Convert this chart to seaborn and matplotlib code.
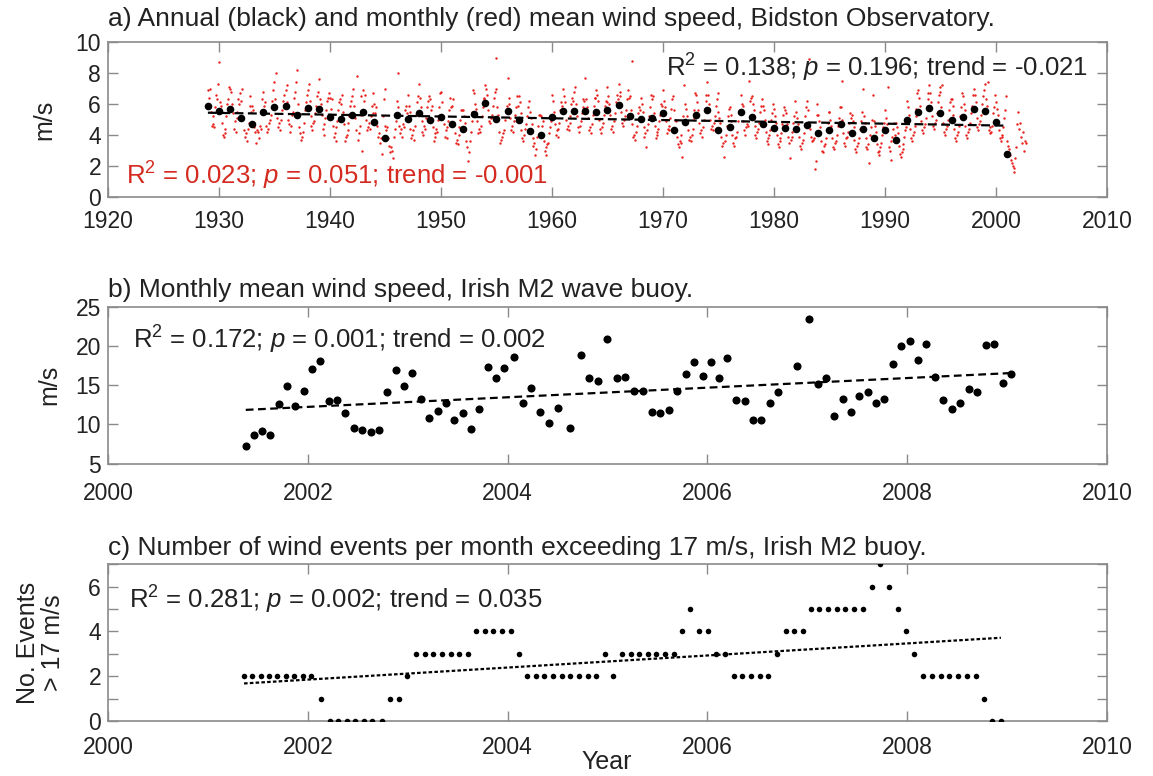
import numpy as np
import matplotlib
matplotlib.use("Agg")
import matplotlib.pyplot as plt
import seaborn as sns

# ---------------- data ----------------
# a) Bidston Observatory: annual mean wind speed (m/s), 1929-2001
annual_years = list(range(1929, 2002))
annual_speed = [5.90, 5.54, 5.69, 5.11, 4.74, 5.49, 5.82, 5.84, 5.26, 5.73,
                5.69, 5.17, 5.06, 5.32, 5.49, 4.87, 3.78, 5.26, 5.06, 5.43,
                5.00, 5.17, 4.70, 4.40, 5.36, 6.05, 5.02, 5.56, 5.00, 4.23,
                3.97, 5.17, 5.54, 5.58, 5.54, 5.50, 5.62, 5.91, 5.23, 5.02,
                5.11, 5.40, 4.34, 4.85, 5.28, 5.60, 4.32, 4.53, 5.47, 5.13,
                4.68, 4.47, 4.47, 4.38, 4.62, 4.11, 4.32, 4.70, 4.15, 4.40,
                3.81, 4.32, 3.68, 4.96, 5.47, 5.77, 5.40, 4.98, 5.15, 5.66,
                5.53, 4.87, 2.77]

# monthly mean wind speed (m/s), Jan 1929 onwards
monthly_start = 1929
monthly_speed = [
    6.9, 6.4, 7.0, 5.5, 4.6, 4.7, 5.2, 4.5, 5.8, 6.6, 6.3, 7.3,
    8.7, 6.1, 5.9, 4.8, 4.0, 3.9, 4.4, 4.1, 5.2, 6.0, 6.3, 7.1,
    7.0, 6.8, 6.0, 5.4, 4.4, 4.9, 4.2, 5.1, 5.5, 6.3, 6.0, 6.7,
    6.2, 7.0, 5.1, 4.3, 3.9, 4.1, 3.6, 4.4, 4.8, 5.9, 6.5, 5.5,
    5.9, 5.6, 4.5, 4.2, 3.5, 4.3, 4.2, 3.8, 4.6, 4.4, 6.3, 5.6,
    6.8, 5.9, 6.1, 4.6, 4.2, 4.4, 4.8, 5.0, 5.3, 6.2, 6.9, 5.7,
    7.4, 6.3, 8.0, 5.1, 4.5, 4.8, 4.3, 5.0, 5.6, 6.2, 6.6, 6.0,
    6.9, 7.2, 6.1, 5.0, 4.7, 4.2, 4.6, 5.3, 5.5, 6.4, 6.8, 7.4,
    8.2, 6.0, 5.4, 4.5, 4.1, 3.7, 3.9, 4.2, 4.8, 5.6, 6.1, 6.6,
    6.9, 7.3, 6.2, 5.2, 4.6, 4.3, 4.8, 4.9, 5.4, 5.9, 6.5, 6.8,
    7.6, 6.3, 6.0, 5.3, 4.4, 4.0, 4.7, 5.1, 5.6, 6.2, 6.4, 6.7,
    6.4, 5.7, 6.3, 4.6, 3.9, 4.1, 3.6, 4.5, 4.9, 5.6, 6.1, 6.3,
    6.0, 6.6, 5.5, 4.7, 3.6, 3.9, 4.0, 4.3, 4.8, 5.2, 5.9, 6.2,
    6.5, 7.0, 5.9, 5.1, 4.3, 7.8, 3.7, 4.1, 4.6, 5.3, 6.5, 3.0,
    6.9, 6.2, 6.6, 5.0, 4.3, 4.5, 4.8, 4.4, 5.2, 5.9, 6.7, 5.4,
    6.0, 5.4, 5.8, 4.6, 3.9, 4.1, 3.5, 3.8, 2.8, 5.2, 6.3, 7.0,
    4.6, 4.3, 4.5, 3.8, 3.3, 2.9, 3.2, 3.0, 2.5, 3.9, 4.4, 4.9,
    6.2, 5.8, 8.0, 4.6, 4.1, 4.4, 3.9, 4.7, 4.5, 5.6, 5.9, 5.4,
    6.6, 5.9, 5.5, 4.4, 3.8, 4.0, 4.3, 3.7, 4.6, 5.3, 6.1, 6.5,
    7.3, 6.4, 5.8, 4.9, 4.2, 4.0, 4.6, 4.4, 5.1, 5.8, 6.2, 6.5,
    6.3, 5.6, 5.9, 4.5, 3.6, 3.9, 4.1, 4.4, 4.2, 5.0, 5.8, 6.7,
    6.8, 6.1, 5.2, 4.7, 3.9, 4.3, 3.8, 4.5, 4.9, 5.6, 6.4, 5.8,
    5.9, 6.3, 4.8, 4.1, 3.5, 3.7, 3.4, 4.0, 4.5, 5.0, 5.6, 5.6,
    5.6, 5.2, 4.8, 3.6, 3.2, 2.3, 2.9, 3.6, 4.2, 4.9, 5.5, 6.9,
    6.7, 6.0, 5.7, 4.9, 4.1, 4.4, 4.2, 4.6, 5.2, 5.8, 6.3, 6.4,
    7.2, 7.0, 6.6, 5.6, 4.9, 4.8, 5.1, 5.3, 5.9, 6.4, 6.8, 7.0,
    9.0, 5.8, 5.3, 4.2, 3.5, 3.7, 3.9, 4.1, 4.3, 5.0, 5.5, 5.9,
    7.7, 6.4, 6.0, 5.1, 4.3, 4.6, 4.2, 4.9, 5.3, 5.8, 6.5, 5.9,
    6.5, 6.1, 5.4, 4.3, 3.8, 3.6, 4.0, 4.4, 4.7, 5.2, 5.8, 6.2,
    5.5, 5.1, 4.7, 3.8, 3.3, 3.5, 2.7, 3.1, 3.9, 4.6, 5.3, 5.3,
    5.2, 4.6, 4.9, 3.6, 3.0, 3.2, 2.7, 3.4, 3.5, 4.1, 4.5, 4.9,
    6.6, 6.2, 5.5, 4.7, 4.0, 4.3, 3.9, 4.4, 4.8, 5.6, 6.1, 5.9,
    7.0, 6.5, 6.1, 5.0, 4.4, 4.6, 4.3, 4.8, 5.2, 6.0, 6.4, 6.2,
    6.8, 7.1, 6.0, 5.2, 4.5, 4.2, 4.6, 4.9, 5.4, 5.8, 6.3, 6.2,
    7.7, 6.3, 5.8, 5.1, 4.3, 4.5, 4.1, 4.7, 5.3, 5.9, 6.4, 6.4,
    6.9, 6.6, 6.2, 5.0, 4.4, 4.1, 4.5, 4.8, 5.3, 5.9, 6.2, 6.1,
    7.1, 6.5, 6.0, 5.3, 4.4, 4.6, 4.2, 4.9, 5.4, 6.1, 6.6, 6.3,
    7.3, 6.8, 6.5, 5.5, 4.8, 4.6, 5.0, 5.2, 5.6, 6.3, 6.9, 6.4,
    6.5, 5.6, 8.8, 4.7, 3.9, 4.0, 3.7, 4.2, 4.6, 5.4, 5.8, 5.6,
    6.4, 6.0, 5.5, 4.5, 3.9, 4.1, 3.2, 4.3, 4.7, 5.2, 5.8, 6.6,
    6.3, 6.5, 5.4, 4.6, 3.8, 4.2, 4.0, 4.4, 4.9, 5.3, 6.0, 5.9,
    6.9, 6.2, 5.8, 4.9, 4.1, 4.4, 4.3, 4.6, 5.1, 5.7, 6.3, 6.5,
    5.6, 5.0, 4.9, 3.9, 3.4, 3.2, 3.6, 3.5, 4.0, 2.6, 5.2, 7.2,
    6.0, 5.7, 5.2, 4.3, 3.7, 3.9, 3.6, 4.0, 4.4, 5.1, 5.6, 6.7,
    6.6, 6.1, 5.6, 4.8, 4.1, 4.3, 3.9, 4.5, 5.0, 5.7, 6.2, 6.6,
    7.4, 6.6, 6.0, 5.0, 4.4, 4.6, 4.3, 4.8, 5.2, 5.9, 6.3, 6.7,
    5.5, 5.1, 4.8, 3.9, 3.3, 3.5, 2.6, 3.6, 4.0, 4.6, 5.2, 5.7,
    5.8, 5.3, 4.9, 4.0, 3.5, 3.3, 3.8, 3.9, 4.2, 4.9, 5.4, 5.4,
    6.6, 6.0, 5.9, 4.9, 4.3, 4.0, 4.5, 4.7, 4.6, 7.5, 6.2, 6.4,
    6.5, 6.0, 5.6, 4.6, 4.0, 3.8, 4.2, 4.4, 4.8, 5.5, 5.9, 6.3,
    5.9, 5.6, 5.0, 4.2, 3.6, 3.4, 3.8, 4.0, 4.3, 5.0, 5.4, 6.0,
    5.7, 5.2, 4.8, 4.0, 3.4, 3.2, 3.6, 3.8, 4.1, 4.7, 5.3, 5.8,
    5.6, 5.4, 4.7, 3.9, 3.5, 2.5, 3.7, 3.9, 4.2, 4.8, 5.2, 6.2,
    5.5, 5.1, 4.7, 3.9, 3.3, 3.1, 3.5, 3.7, 4.1, 4.7, 5.2, 5.8,
    6.2, 5.6, 8.9, 4.4, 3.9, 3.6, 3.7, 3.8, 1.8, 2.3, 5.3, 6.0,
    5.3, 4.9, 4.5, 3.6, 3.0, 2.9, 3.3, 3.4, 3.8, 4.3, 4.8, 5.5,
    5.5, 5.0, 4.6, 3.8, 3.2, 3.1, 3.5, 3.6, 4.0, 4.6, 5.1, 5.8,
    5.8, 5.0, 7.5, 4.1, 3.5, 3.3, 3.8, 3.9, 4.2, 4.8, 5.4, 5.1,
    5.3, 4.9, 4.5, 3.7, 3.1, 2.9, 3.3, 3.5, 3.8, 4.4, 4.9, 5.5,
    7.0, 5.2, 4.8, 3.8, 3.2, 3.1, 3.4, 2.2, 4.0, 4.5, 5.0, 6.6,
    4.9, 4.6, 4.2, 3.4, 2.9, 2.7, 3.0, 3.2, 3.5, 4.0, 4.5, 4.8,
    5.6, 5.1, 4.7, 7.1, 3.2, 3.0, 2.4, 3.6, 3.9, 4.4, 4.8, 4.0,
    4.8, 4.5, 4.1, 3.3, 2.8, 2.6, 2.9, 3.1, 3.4, 3.9, 4.3, 4.5,
    6.2, 5.8, 5.3, 4.4, 3.8, 3.6, 4.0, 4.2, 4.6, 5.2, 5.7, 6.7,
    6.9, 6.4, 5.9, 4.9, 4.3, 4.1, 4.5, 4.7, 5.1, 5.8, 6.3, 6.7,
    7.2, 6.7, 6.1, 5.2, 4.6, 4.4, 4.8, 5.0, 5.4, 6.1, 6.6, 7.1,
    6.8, 5.8, 7.25, 4.8, 4.2, 4.0, 4.4, 4.6, 5.0, 5.6, 6.1, 6.3,
    6.3, 5.9, 5.3, 4.4, 3.8, 3.6, 4.0, 4.2, 4.6, 5.2, 5.8, 6.7,
    6.5, 6.0, 5.6, 4.6, 4.0, 3.8, 4.2, 4.4, 4.8, 5.4, 5.9, 6.6,
    7.0, 6.6, 6.1, 5.1, 4.5, 4.3, 4.7, 4.9, 5.3, 6.0, 6.5, 6.9,
    7.3, 6.3, 5.9, 7.4, 4.3, 4.1, 4.5, 4.2, 4.6, 5.4, 5.8, 6.6,
    6.1, 5.7, 5.3, 4.3, 3.8, 3.6, 3.9, 4.0, 4.5, 5.1, 5.6, 6.5,
    3.6, 3.3, 3.1, 2.7, 2.4, 2.2, 2.0, 1.6, 1.9, 2.5, 3.2, 4.7,
    5.5, 4.4, 4.8, 3.9, 3.5, 4.2, 3.0, 3.6, 3.5,
]

# b) Irish M2 wave buoy: monthly mean wind speed (m/s)
buoy_time = [2001.379, 2001.462, 2001.546, 2001.626, 2001.710, 2001.793, 2001.876, 2001.960,
             2002.043, 2002.127, 2002.210, 2002.294, 2002.377, 2002.461, 2002.544, 2002.628,
             2002.711, 2002.795, 2002.878, 2002.962, 2003.045, 2003.129, 2003.215, 2003.299,
             2003.382, 2003.466, 2003.549, 2003.629, 2003.713, 2003.800, 2003.883, 2003.967,
             2004.063, 2004.150, 2004.237, 2004.327, 2004.414, 2004.501, 2004.624, 2004.731,
             2004.818, 2004.905, 2004.997, 2005.093, 2005.176, 2005.270, 2005.356, 2005.443,
             2005.529, 2005.616, 2005.699, 2005.785, 2005.869, 2005.952, 2006.035, 2006.118,
             2006.201, 2006.287, 2006.374, 2006.457, 2006.540, 2006.623, 2006.706, 2006.893,
             2007.021, 2007.104, 2007.187, 2007.270, 2007.356, 2007.439, 2007.522, 2007.606,
             2007.689, 2007.772, 2007.858, 2007.941, 2008.024, 2008.107, 2008.190, 2008.277,
             2008.360, 2008.446, 2008.533, 2008.619, 2008.702, 2008.785, 2008.869, 2008.955,
             2009.042]
buoy_speed = [7.23, 8.60, 9.19, 8.60, 12.64, 14.85, 12.38, 14.26,
              17.06, 18.13, 12.98, 13.06, 11.45, 9.53, 9.28, 8.98,
              9.32, 14.17, 16.89, 14.94, 16.55, 13.23, 10.77, 11.74,
              12.68, 10.55, 11.49, 9.40, 11.91, 17.28, 15.96, 17.15,
              18.60, 12.72, 14.60, 11.57, 10.17, 12.04, 9.57, 18.85,
              15.96, 15.49, 20.85, 15.87, 16.09, 14.30, 14.26, 11.57,
              11.45, 11.87, 14.26, 16.43, 17.96, 16.21, 17.91, 15.87,
              18.43, 13.11, 13.02, 10.51, 10.60, 12.68, 14.13, 17.45,
              23.40, 15.15, 15.96, 11.02, 13.28, 11.62, 13.66, 14.17,
              12.68, 13.28, 17.66, 19.96, 20.68, 18.17, 20.30, 16.00,
              13.06, 12.00, 12.72, 14.51, 14.17, 20.13, 20.30, 15.32,
              16.47]

# c) Number of wind events per month exceeding 17 m/s
event_time = [2001.362, 2001.446, 2001.529, 2001.613, 2001.696, 2001.780, 2001.863, 2001.947,
              2002.030, 2002.134, 2002.224, 2002.307, 2002.391, 2002.477, 2002.561, 2002.644,
              2002.741, 2002.825, 2002.908, 2002.992, 2003.082, 2003.169, 2003.255, 2003.342,
              2003.429, 2003.516, 2003.603, 2003.683, 2003.770, 2003.856, 2003.943, 2004.033,
              2004.117, 2004.194, 2004.280, 2004.367, 2004.454, 2004.541, 2004.628, 2004.715,
              2004.801, 2004.888, 2004.972, 2005.059, 2005.145, 2005.232, 2005.315, 2005.401,
              2005.488, 2005.574, 2005.661, 2005.744, 2005.830, 2005.917, 2006.003, 2006.090,
              2006.176, 2006.263, 2006.349, 2006.436, 2006.522, 2006.606, 2006.696, 2006.782,
              2006.869, 2006.952, 2007.035, 2007.121, 2007.208, 2007.294, 2007.381, 2007.467,
              2007.561, 2007.647, 2007.730, 2007.817, 2007.903, 2007.986, 2008.073, 2008.159,
              2008.249, 2008.336, 2008.422, 2008.509, 2008.599, 2008.685, 2008.765, 2008.851,
              2008.938]
event_count = [2, 2, 2, 2, 2, 2, 2, 2,
               2, 1, 0, 0, 0, 0, 0, 0,
               0, 1, 1, 2, 3, 3, 3, 3,
               3, 3, 3, 4, 4, 4, 4, 4,
               3, 2, 2, 2, 2, 2, 2, 2,
               2, 2, 3, 2, 3, 3, 3, 3,
               3, 3, 3, 4, 5, 4, 4, 3,
               3, 2, 2, 2, 2, 2, 3, 4,
               4, 4, 5, 5, 5, 5, 5, 5,
               5, 6, 7, 6, 5, 4, 3, 2,
               2, 2, 2, 2, 2, 2, 1, 0,
               0]

titles = ["a) Annual (black) and monthly (red) mean wind speed, Bidston Observatory.",
          "b) Monthly mean wind speed, Irish M2 wave buoy.",
          "c) Number of wind events per month exceeding 17 m/s, Irish M2 buoy."]
stats = [r"R$^2$ = 0.138; $p$ = 0.196; trend = -0.021",
         r"R$^2$ = 0.023; $p$ = 0.051; trend = -0.001",
         r"R$^2$ = 0.172; $p$ = 0.001; trend = 0.002",
         r"R$^2$ = 0.281; $p$ = 0.002; trend = 0.035"]

# ---------------- style ----------------
sns.set_theme(style="ticks")
FONT = "Liberation Sans"
plt.rcParams["font.family"] = [FONT, "DejaVu Sans"]
plt.rcParams["mathtext.fontset"] = "custom"
plt.rcParams["mathtext.rm"] = FONT
plt.rcParams["mathtext.it"] = FONT + ":italic"
plt.rcParams["mathtext.bf"] = FONT + ":bold"

FS_TICK = 16.5
FS_LAB = 18
FS_STAT = 18.5
FS_TITLE = 19
SPINE = "#8a8a8a"
TXT = "#222222"

fig = plt.figure(figsize=(11.53, 7.76), dpi=100)
W, H = 1153.0, 776.0


def make_ax(top, bottom, left=108, right=1107):
    return fig.add_axes([left / W, 1 - bottom / H, (right - left) / W, (bottom - top) / H])


def style_ax(ax, xpad):
    for s in ax.spines.values():
        s.set_color(SPINE)
        s.set_linewidth(1.2)
    ax.tick_params(direction="in", length=7, width=1.0, color=SPINE,
                   top=True, right=True, labelsize=FS_TICK, labelcolor=TXT)
    ax.tick_params(axis="x", pad=xpad)
    ax.tick_params(axis="y", pad=5)


ax_a = make_ax(42, 197)
ax_b = make_ax(306.7, 463.7)
ax_c = make_ax(564.3, 721)

# ----- panel a -----
monthly_time = monthly_start + np.arange(len(monthly_speed)) / 12.0
sns.scatterplot(x=monthly_time, y=monthly_speed, ax=ax_a, color="#e8201c", s=3,
                linewidth=0, zorder=2)
sns.regplot(x=np.array(annual_years, float), y=np.array(annual_speed), ax=ax_a, scatter=False,
            ci=None, truncate=True,
            line_kws=dict(color="black", lw=1.6, ls=(0, (4, 2)), zorder=3))
sns.scatterplot(x=annual_years, y=annual_speed, ax=ax_a, color="black", s=30,
                linewidth=0, zorder=4)
ax_a.set_xlim(1920, 2010)
ax_a.set_ylim(0, 10)
ax_a.set_xticks(range(1920, 2011, 10))
ax_a.set_yticks(range(0, 11, 2))
ax_a.set_ylabel("m/s", fontsize=FS_LAB, labelpad=14, color=TXT)
ax_a.text(0.981, 0.83, stats[0], transform=ax_a.transAxes, ha="right", va="center",
          fontsize=FS_STAT, color=TXT)
ax_a.text(0.018, 0.135, stats[1], transform=ax_a.transAxes, ha="left", va="center",
          fontsize=FS_STAT, color="#d42a20")

# ----- panel b -----
sns.regplot(x=np.array(buoy_time), y=np.array(buoy_speed), ax=ax_b, scatter=False,
            ci=None, truncate=True,
            line_kws=dict(color="black", lw=1.6, ls=(0, (3.5, 2)), zorder=3))
sns.scatterplot(x=buoy_time, y=buoy_speed, ax=ax_b, color="black", s=34,
                linewidth=0, zorder=4)
ax_b.set_xlim(2000, 2010)
ax_b.set_ylim(5, 25)
ax_b.set_xticks(range(2000, 2011, 2))
ax_b.set_yticks(range(5, 26, 5))
ax_b.set_ylabel("m/s", fontsize=FS_LAB, labelpad=10, color=TXT)
ax_b.text(0.025, 0.79, stats[2], transform=ax_b.transAxes, ha="left", va="center",
          fontsize=FS_STAT, color=TXT)

# ----- panel c -----
sns.regplot(x=np.array(event_time), y=np.array(event_count, float), ax=ax_c, scatter=False,
            ci=None, truncate=True,
            line_kws=dict(color="black", lw=1.6, ls=(0, (1.6, 1.0)), zorder=3))
sns.scatterplot(x=event_time, y=event_count, ax=ax_c, color="black", s=16,
                linewidth=0, zorder=4)
ax_c.set_xlim(2000, 2010)
ax_c.set_ylim(0, 7)
ax_c.set_xticks(range(2000, 2011, 2))
ax_c.set_yticks(range(0, 8))
ax_c.set_yticklabels(["0", "", "2", "", "4", "", "6", ""])
ax_c.set_ylabel("No. Events\n> 17 m/s", fontsize=FS_LAB, labelpad=17, linespacing=1.05,
                color=TXT)
ax_c.set_xlabel("")
ax_c.text(0.021, 0.775, stats[3], transform=ax_c.transAxes, ha="left", va="center",
          fontsize=FS_STAT, color=TXT)

style_ax(ax_a, 9)
style_ax(ax_b, 13)
style_ax(ax_c, 11)

# x-axis label under the bottom panel
fig.text(607 / W, 1 - 762 / H, "Year", ha="center", va="center", fontsize=FS_LAB, color=TXT)

# titles
for t, y in zip(titles, (19, 290, 548)):
    fig.text(108 / W, 1 - y / H, t, ha="left", va="center", fontsize=FS_TITLE, color=TXT)

fig.savefig("out.png", dpi=100, facecolor="white")
